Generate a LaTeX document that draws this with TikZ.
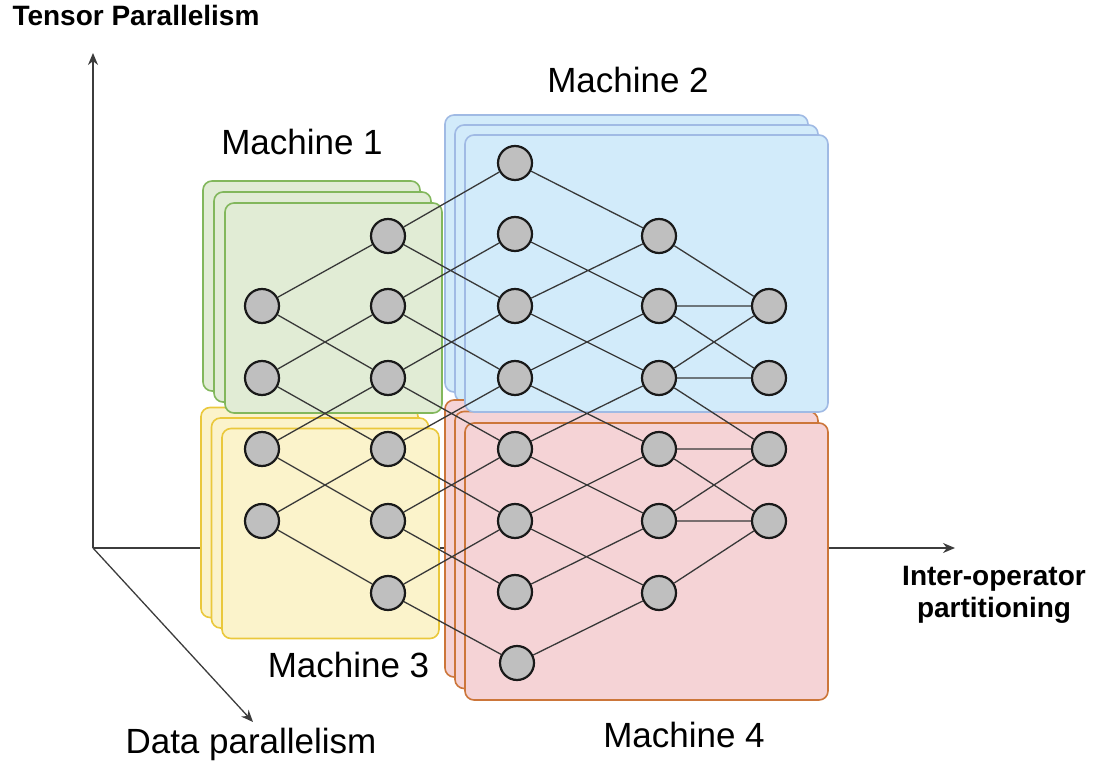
\documentclass[tikz,border=0pt]{standalone}
\usepackage{fontspec}
\setmainfont{Liberation Sans}
\usepackage{tikz}
\usetikzlibrary{arrows.meta,shapes,positioning}
\usepackage{xcolor}
\definecolor{mgreen}{RGB}{225,236,213}
\definecolor{mgreenline}{RGB}{130,183,92}
\definecolor{mblue}{RGB}{210,235,250}
\definecolor{mblueline}{RGB}{160,186,228}
\definecolor{myellow}{RGB}{251,243,203}
\definecolor{myellowline}{RGB}{234,200,60}
\definecolor{mred}{RGB}{245,211,214}
\definecolor{mredline}{RGB}{204,118,58}
\definecolor{axisgray}{RGB}{60,60,60}
\tikzstyle{axis} = [line width=1.3pt,-{Stealth[length=12pt,width=10pt]},color=axisgray]
\tikzstyle{smallbox} = [rectangle, rounded corners=9pt, line width=1.6pt, minimum width=217pt, minimum height=210pt]
\tikzstyle{bigbox} = [rectangle, rounded corners=9pt, line width=1.6pt, minimum width=363pt, minimum height=277pt]
\tikzstyle{unit} = [circle, draw=black!90, fill=gray!50, line width=2.2pt, minimum size=34pt, inner sep=0pt]
\tikzstyle{link} = [line width=1.3pt, draw=black!78]
\tikzstyle{machinelabel} = [font=\fontsize{35}{40}\selectfont]
\tikzstyle{axislabel} = [font=\fontsize{28}{32}\selectfont\bfseries, align=center]

\begin{document}
\begin{tikzpicture}[x=1pt, y=-1pt]
    \useasboundingbox (0,0) rectangle (1097,775);

    % Axes
    \coordinate (origin) at (93,548);
    \coordinate (tensorend) at (93,53);
    \coordinate (interend) at (955,548);
    \coordinate (dataend) at (253,722);
    \draw[axis] (origin) -- (tensorend);
    \draw[axis] (origin) -- (interend);
    \draw[axis] (origin) -- (dataend);

    % Back copies of the machines
    \node[smallbox, draw=mgreenline, fill=mgreen] (m1back) at (311.5,286) {};
    \node[smallbox, draw=mgreenline, fill=mgreen] (m1mid) at (322.5,297) {};
    \node[bigbox, draw=mblueline, fill=mblue] (m2back) at (626.5,253.5) {};
    \node[bigbox, draw=mblueline, fill=mblue] (m2mid) at (636.5,263.5) {};
    \node[smallbox, draw=myellowline, fill=myellow] (m3back) at (309.5,512.5) {};
    \node[smallbox, draw=myellowline, fill=myellow] (m3mid) at (320,523) {};
    \node[bigbox, draw=mredline, fill=mred] (m4back) at (626.5,538.5) {};
    \node[bigbox, draw=mredline, fill=mred] (m4mid) at (636.5,550) {};

    % Front machines
    \node[smallbox, draw=mgreenline, fill=mgreen] (m1) at (333.5,308) {};
    \node[bigbox, draw=mblueline, fill=mblue] (m2) at (646.5,273.5) {};
    \node[smallbox, draw=myellowline, fill=myellow] (m3) at (330.5,533.5) {};
    \node[bigbox, draw=mredline, fill=mred] (m4) at (646.5,561.5) {};

    % Units, layer by layer
    \node[unit] (a1) at (262,306) {};
    \node[unit] (a2) at (262,378) {};
    \node[unit] (a3) at (262,449) {};
    \node[unit] (a4) at (262,521) {};

    \node[unit] (b1) at (388,236) {};
    \node[unit] (b2) at (388,306) {};
    \node[unit] (b3) at (388,378) {};
    \node[unit] (b4) at (388,449) {};
    \node[unit] (b5) at (388,521) {};
    \node[unit] (b6) at (388,593) {};

    \node[unit] (c1) at (515,163) {};
    \node[unit] (c2) at (515,234) {};
    \node[unit] (c3) at (515,306) {};
    \node[unit] (c4) at (515,378) {};
    \node[unit] (c5) at (515,449) {};
    \node[unit] (c6) at (515,521) {};
    \node[unit] (c7) at (515,592) {};
    \node[unit] (c8) at (517,663) {};

    \node[unit] (d1) at (659,236) {};
    \node[unit] (d2) at (659,306) {};
    \node[unit] (d3) at (659,378) {};
    \node[unit] (d4) at (659,449) {};
    \node[unit] (d5) at (659,521) {};
    \node[unit] (d6) at (659,593) {};

    \node[unit] (e1) at (769,306) {};
    \node[unit] (e2) at (769,378) {};
    \node[unit] (e3) at (769,449) {};
    \node[unit] (e4) at (769,521) {};

    % Links
    \draw[link] (a1) -- (b1) (a1) -- (b3) (a2) -- (b2) (a2) -- (b4);
    \draw[link] (a3) -- (b3) (a3) -- (b5) (a4) -- (b4) (a4) -- (b6);
    \draw[link] (b1) -- (c1) (b1) -- (c3) (b2) -- (c2) (b2) -- (c4);
    \draw[link] (b3) -- (c3) (b3) -- (c5) (b4) -- (c4) (b4) -- (c6);
    \draw[link] (b5) -- (c5) (b5) -- (c7) (b6) -- (c6) (b6) -- (c8);
    \draw[link] (c1) -- (d1) (c2) -- (d2) (c3) -- (d1) (c3) -- (d3);
    \draw[link] (c4) -- (d2) (c4) -- (d4) (c5) -- (d3) (c5) -- (d5);
    \draw[link] (c6) -- (d4) (c6) -- (d6) (c7) -- (d5) (c8) -- (d6);
    \draw[link] (d1) -- (e1) (d2) -- (e1) (d2) -- (e2);
    \draw[link] (d3) -- (e1) (d3) -- (e2) (d3) -- (e3);
    \draw[link] (d4) -- (e3) (d4) -- (e4) (d5) -- (e3) (d5) -- (e4) (d6) -- (e4);

    % Labels
    \node[machinelabel] (m1label) at (302,142) {Machine 1};
    \node[machinelabel] (m2label) at (628,80) {Machine 2};
    \node[machinelabel] (m3label) at (348.5,665) {Machine 3};
    \node[machinelabel] (m4label) at (684,734.5) {Machine 4};
    \node[axislabel] (tensorlabel) at (136,15) {Tensor Parallelism};
    \node[axislabel] (interlabel) at (994,595) {Inter-operator\\partitioning};
    \node[machinelabel] (datalabel) at (251,744) {Data parallelism};
\end{tikzpicture}
\end{document}
